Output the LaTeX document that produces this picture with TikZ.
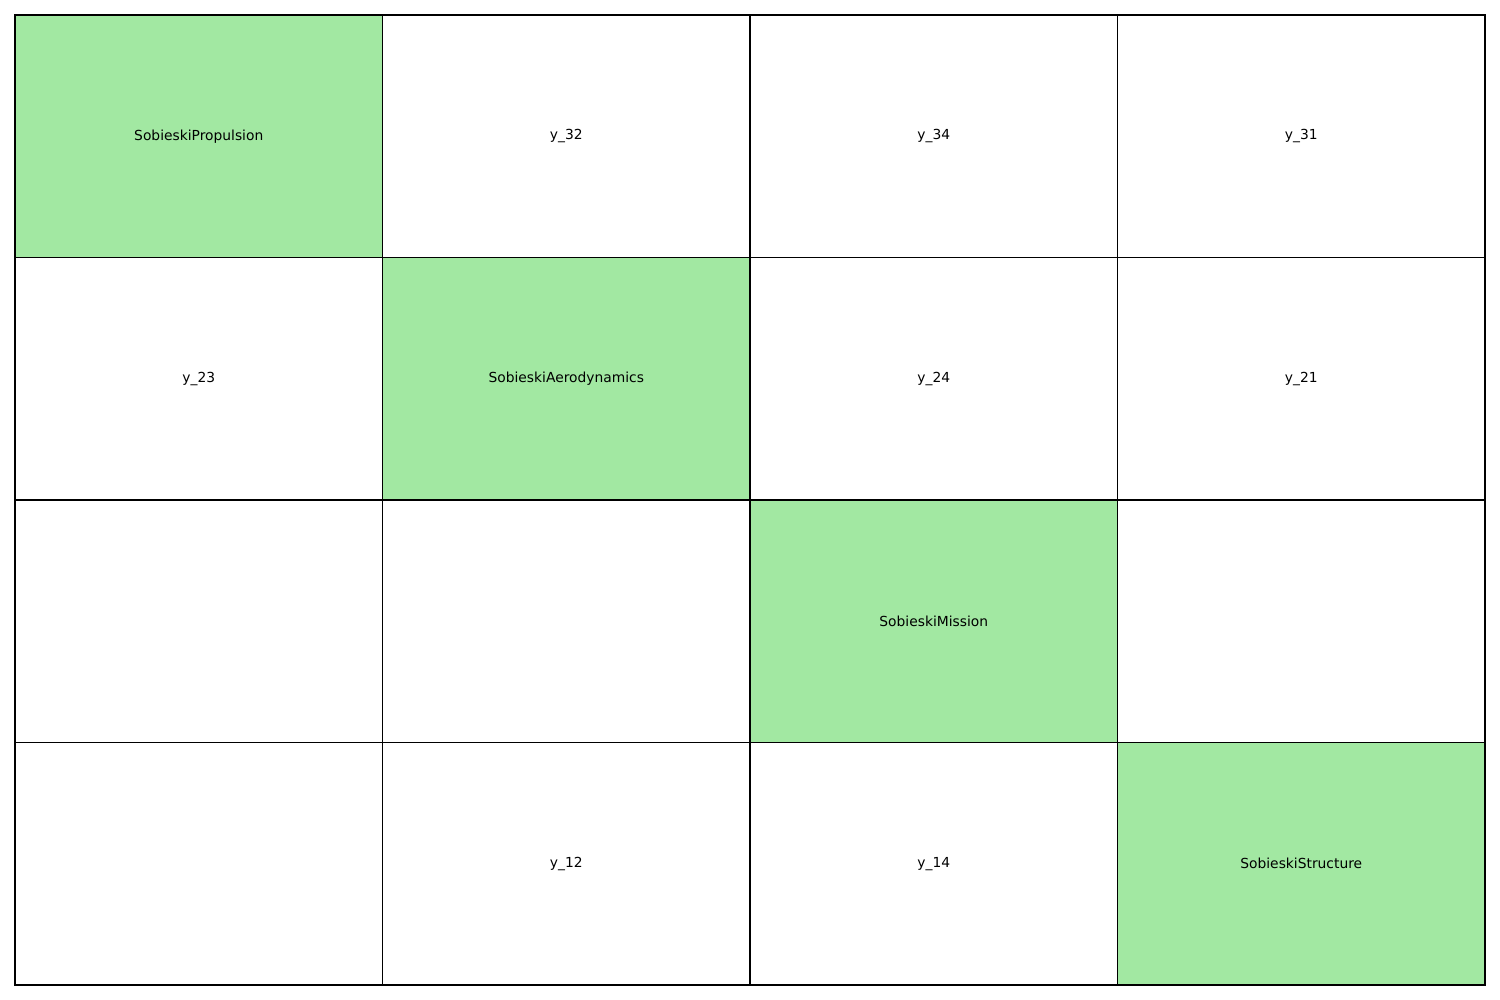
\documentclass[tikz,border=0pt]{standalone}
\usepackage{fontspec}
\setmainfont{DejaVu Sans}
\definecolor{diaggreen}{RGB}{162,232,162}
\tikzset{cell/.style={font=\fontsize{10pt}{12pt}\selectfont, inner sep=0pt}}
\begin{document}
\begin{tikzpicture}[x=0.0254cm, y=-0.0254cm]

\useasboundingbox (0,0) rectangle (1500,1000);

%color

\fill[diaggreen] (15,15) rectangle (382.5,257.5);
\fill[diaggreen] (382.5,257.5) rectangle (750,500);
\fill[diaggreen] (750,500) rectangle (1117.5,742.5);
\fill[diaggreen] (1117.5,742.5) rectangle (1485,985);

% values of cells

\node[cell] (c11) at (198.75,136.25) {SobieskiPropulsion};
\node[cell] (c12) at (566.25,136.25) {y\_32};
\node[cell] (c13) at (933.75,136.25) {y\_34};
\node[cell] (c14) at (1301.25,136.25) {y\_31};

\node[cell] (c21) at (198.75,378.75) {y\_23};
\node[cell] (c22) at (566.25,378.75) {SobieskiAerodynamics};
\node[cell] (c23) at (933.75,378.75) {y\_24};
\node[cell] (c24) at (1301.25,378.75) {y\_21};

\node[cell] (c33) at (933.75,621.25) {SobieskiMission};

\node[cell] (c42) at (566.25,863.75) {y\_12};
\node[cell] (c43) at (933.75,863.75) {y\_14};
\node[cell] (c44) at (1301.25,863.75) {SobieskiStructure};

%lines

\draw[line width=0.8pt] (15,15) rectangle (1485,985);

\draw[line width=0.8pt] (382.5,15) -- (382.5,985);
\draw[line width=0.8pt] (750,15) -- (750,985);
\draw[line width=0.8pt] (1117.5,15) -- (1117.5,985);

\draw[line width=0.8pt] (15,257.5) -- (1485,257.5);
\draw[line width=0.8pt] (15,500) -- (1485,500);
\draw[line width=0.8pt] (15,742.5) -- (1485,742.5);
\end{tikzpicture}
\end{document}
